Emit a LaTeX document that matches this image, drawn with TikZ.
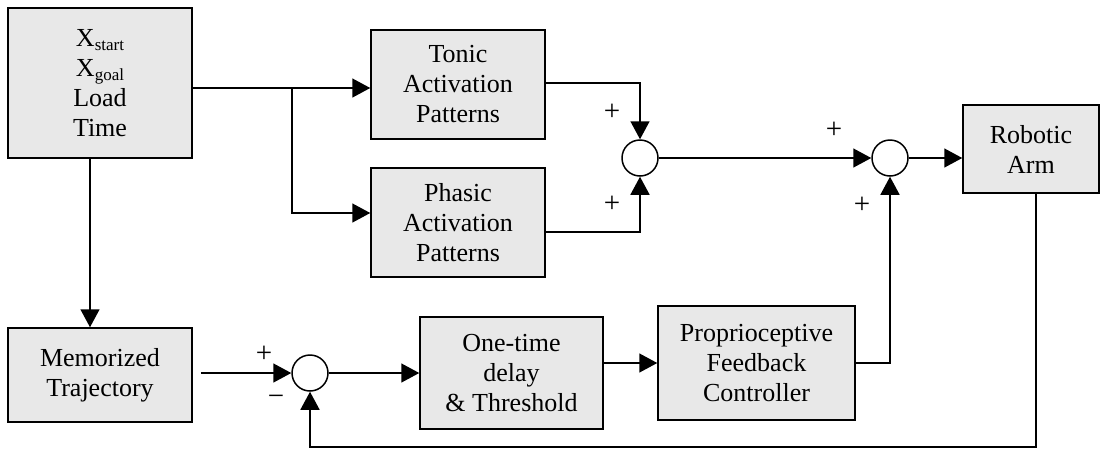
\documentclass[tikz,border=0pt]{standalone}
\usepackage{fontspec}
\setmainfont{Liberation Serif}
\usetikzlibrary{arrows.meta}
\tikzset{
  blk/.style={draw, line width=1.5pt, fill=black!9, inner sep=0pt, align=center,
    font=\fontsize{26}{30}\selectfont},
  sumj/.style={draw, line width=1.5pt, circle, minimum size=36pt, inner sep=0pt, fill=white},
  arr/.style={line width=1.5pt, -{Triangle[length=18pt,width=19pt]}},
  ln/.style={line width=1.5pt},
  sgn/.style={inner sep=0pt, font=\fontsize{29}{29}\selectfont}
}
\newcommand{\subtxt}[1]{\raisebox{-4pt}{\fontsize{17}{17}\selectfont #1}}
\begin{document}
\begin{tikzpicture}[x=1pt,y=-1pt]
\useasboundingbox (0,0) rectangle (1102,448);
% blocks
\node[blk, minimum width=184pt, minimum height=150pt] (inp) at (100,83)
  {X\subtxt{start}\\X\subtxt{goal}\\Load\\Time};
\node[blk, minimum width=174pt, minimum height=109pt] (tonic) at (458,84.5)
  {Tonic\\Activation\\Patterns};
\node[blk, minimum width=174pt, minimum height=109pt] (phasic) at (458,222.5)
  {Phasic\\Activation\\Patterns};
\node[blk, minimum width=184pt, minimum height=94pt] (mem) at (100,375)
  {Memorized\\Trajectory};
\node[blk, minimum width=183pt, minimum height=112pt] (onet) at (511.5,373)
  {One-time\\delay\\\& Threshold};
\node[blk, minimum width=197pt, minimum height=114pt] (prop) at (756.5,363)
  {Proprioceptive\\Feedback\\Controller};
\node[blk, minimum width=136pt, minimum height=88pt] (robot) at (1031,149)
  {Robotic\\Arm};
% summing junctions
\node[sgn] (p1) at (612,112) {+};
\node[sumj] (s1) at (640,158) {};
\node[sumj] (s2) at (890,158) {};
\node[sumj] (s3) at (310,373) {};
% signs
\node[sgn] (p2) at (612,204) {+};
\node[sgn] (p3) at (834,130) {+};
\node[sgn] (p4) at (862,205) {+};
\node[sgn] (p5) at (264,354) {+};
\node[sgn] (m1) at (276,400) {\textminus};
% connectors
\coordinate (br) at (292,88);
\draw[arr] (inp.east |- br) -- (tonic.west |- br);
\draw[arr] (br) |- ([yshift=9.5pt]phasic.west);
\draw[arr] ([yshift=1.5pt]tonic.east) -| (s1.north);
\draw[arr] ([yshift=-9.5pt]phasic.east) -| (s1.south);
\draw[arr] (s1.east) -- (s2.west);
\draw[arr] (s2.east) -- (robot.west |- s2);
\draw[arr] ([xshift=-10pt]inp.south) -- ([xshift=-10pt]mem.north);
\draw[arr] ([xshift=8pt]mem.east |- s3) -- (s3.west);
\draw[arr] (s3.east) -- (onet.west);
\draw[arr] (onet.east |- prop) -- (prop.west);
\draw[arr] (prop.east) -| (s2.south);
\draw[arr] ([xshift=5pt]robot.south) -- ++(0,253) -| (s3.south);
\end{tikzpicture}
\end{document}
